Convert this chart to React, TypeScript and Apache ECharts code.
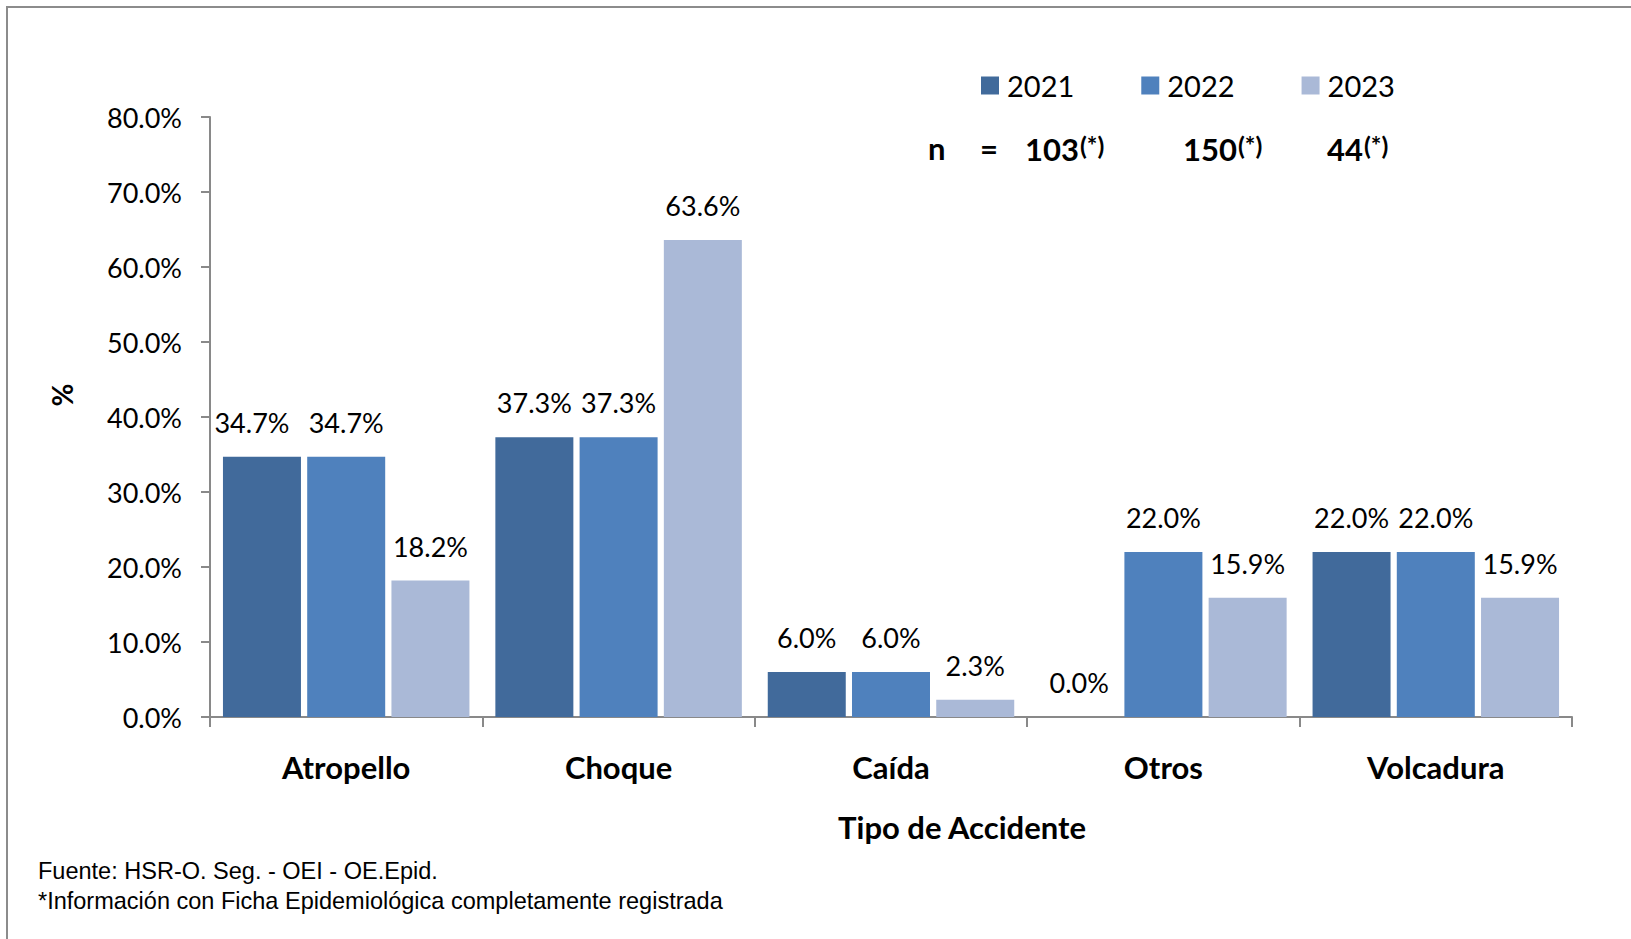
import React, { useEffect, useRef } from "react";
import * as echarts from "echarts";

const categories = ["Atropello", "Choque", "Caída", "Otros", "Volcadura"];
const years = ["2021", "2022", "2023"];
const values2021 = [34.7, 37.3, 6.0, 0.0, 22.0];
const values2022 = [34.7, 37.3, 6.0, 22.0, 22.0];
const values2023 = [18.2, 63.6, 2.3, 15.9, 15.9];
const nLabel = "n";
const nEquals = "=";
const nValues = ["103", "150", "44"];
const nMark = "(*)";
const yMin = 0;
const yMax = 80;
const yStep = 10;
const yAxisName = "%";
const xAxisName = "Tipo de Accidente";
const footnotes = [
  "Fuente: HSR-O. Seg. - OEI - OE.Epid.",
  "*Información con Ficha Epidemiológica completamente registrada",
];

const colors = ["#416A9B", "#4F81BD", "#AAB9D7"];
const FONT = 'Lato, "Liberation Sans", sans-serif';
const AXIS = "#898989";

export default function App() {
  const ref = useRef<HTMLDivElement>(null);

  useEffect(() => {
    if (!ref.current) return;
    const chart = echarts.init(ref.current, null, { renderer: "svg" });
    const seriesValues = [values2021, values2022, values2023];
    const fmt = (v: number) => Number(v).toFixed(1) + "%";

    const nXs = [1025, 1183, 1327];
    const nGraphics: any[] = nValues.map((v, i) => ({
      type: "text",
      x: nXs[i],
      y: 148,
      style: {
        text: `{m|${v}}{s|${nMark}}`,
        fontFamily: FONT,
        verticalAlign: "middle",
        align: "left",
        rich: {
          m: { fontSize: 31, lineHeight: 32, fontWeight: "bold", fontFamily: FONT, fill: "#000", verticalAlign: "bottom" },
          s: { fontSize: 25, lineHeight: 22, fontWeight: "bold", fontFamily: FONT, fill: "#000", verticalAlign: "top", padding: [0, 0, 0, 1] },
        },
      },
    }));

    chart.setOption({
      animation: false,
      backgroundColor: "#ffffff",
      color: colors,
      textStyle: { fontFamily: FONT },
      grid: { left: 210, right: 59, top: 117, bottom: 222, containLabel: false },
      legend: {
        data: years,
        left: 976,
        top: 66,
        icon: "rect",
        itemWidth: 18,
        itemHeight: 18,
        itemGap: 67,
        textStyle: { fontSize: 29, fontFamily: FONT, color: "#000", padding: [0, 0, 0, 3] },
      },
      xAxis: {
        type: "category",
        data: categories,
        axisLine: { lineStyle: { color: AXIS, width: 2 } },
        axisTick: { show: true, length: 10, lineStyle: { color: AXIS, width: 2 } },
        axisLabel: { margin: 34, fontSize: 31, fontWeight: "bold", color: "#000", fontFamily: FONT },
        splitLine: { show: false },
      },
      yAxis: {
        type: "value",
        min: yMin,
        max: yMax,
        interval: yStep,
        axisLine: { show: true, lineStyle: { color: AXIS, width: 2 } },
        axisTick: { show: true, length: 9, lineStyle: { color: AXIS, width: 2 } },
        axisLabel: { margin: 28, fontSize: 27, color: "#000", fontFamily: FONT, formatter: (v: number) => fmt(v) },
        splitLine: { show: false },
      },
      series: years.map((y, si) => ({
        name: y,
        type: "bar",
        barWidth: 78,
        barGap: "8%",
        data: seriesValues[si].map((v, i) =>
          si === 0 && i === 0 ? { value: v, label: { offset: [-10, 0] } } : v
        ),
        label: {
          show: true,
          position: "top",
          distance: 21,
          fontSize: 27,
          color: "#000",
          fontFamily: FONT,
          formatter: (p: any) => fmt(p.value),
        },
      })),
      graphic: [
        {
          type: "rect",
          shape: { x: 7, y: 7, width: 1700, height: 1000 },
          style: { fill: "none", stroke: "#8c8c8c", lineWidth: 2 },
          silent: true,
        },
        {
          type: "text",
          x: 62,
          y: 395,
          rotation: Math.PI / 2,
          style: { text: yAxisName, fontSize: 28, fontWeight: "bold", fontFamily: FONT, fill: "#000", align: "center", verticalAlign: "middle" },
        },
        {
          type: "text",
          x: 962,
          y: 827,
          style: { text: xAxisName, fontSize: 31, fontWeight: "bold", fontFamily: FONT, fill: "#000", align: "center", verticalAlign: "middle" },
        },
        {
          type: "text",
          x: 928,
          y: 148,
          style: { text: nLabel, fontSize: 31, fontWeight: "bold", fontFamily: FONT, fill: "#000", align: "left", verticalAlign: "middle" },
        },
        {
          type: "text",
          x: 980,
          y: 148,
          style: { text: nEquals, fontSize: 31, fontWeight: "bold", fontFamily: FONT, fill: "#000", align: "left", verticalAlign: "middle" },
        },
        ...nGraphics,
        ...footnotes.map((t, i) => ({
          type: "text",
          x: 38,
          y: 870 + i * 30,
          scaleX: 0.98,
          style: {
            text: t,
            fontSize: 24,
            fontFamily: '"Liberation Sans", Arial, sans-serif',
            fill: "#000",
            align: "left",
            verticalAlign: "middle",
          },
        })),
      ],
    });
    return () => chart.dispose();
  }, []);

  return (
    <div
      ref={ref}
      style={{ position: "fixed", left: 0, top: 0, width: 1631, height: 939, background: "#fff" }}
    />
  );
}
